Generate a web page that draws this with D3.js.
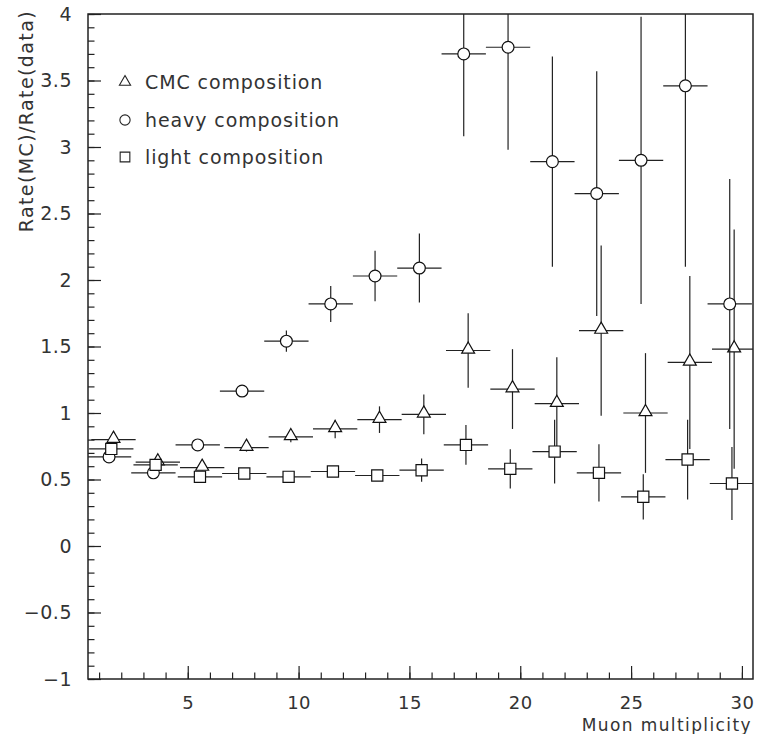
<!DOCTYPE html>
<html lang="en">
<head>
<meta charset="UTF-8">
<title>Rate(MC)/Rate(data)</title>
<script src="https://cdn.jsdelivr.net/npm/d3@7"></script>
<style>
  * { margin: 0; padding: 0; }
  body { background: #fff; }
  text { font-family: "DejaVu Sans", sans-serif; fill: #333; }
</style>
</head>
<body>
<svg></svg>
<script>
  // values
  const cmcX   = [1.65, 3.65, 5.65, 7.65, 9.65, 11.65, 13.65, 15.65, 17.65, 19.65, 21.65, 23.65, 25.65, 27.65, 29.65];
  const cmcY   = [0.80, 0.63, 0.59, 0.74, 0.82, 0.88, 0.95, 0.99, 1.47, 1.18, 1.07, 1.62, 1.00, 1.38, 1.48];
  const cmcErr = [0.02, 0.02, 0.02, 0.03, 0.04, 0.07, 0.10, 0.15, 0.28, 0.30, 0.35, 0.64, 0.45, 0.65, 0.90];

  const heavyX   = [1.45, 3.45, 5.45, 7.45, 9.45, 11.45, 13.45, 15.45, 17.45, 19.45, 21.45, 23.45, 25.45, 27.45, 29.45];
  const heavyY   = [0.67, 0.55, 0.76, 1.165, 1.54, 1.82, 2.03, 2.09, 3.70, 3.75, 2.89, 2.65, 2.90, 3.46, 1.82];
  const heavyErr = [0.02, 0.02, 0.03, 0.03, 0.08, 0.135, 0.19, 0.26, 0.62, 0.77, 0.79, 0.92, 1.08, 1.36, 0.94];

  const lightX   = [1.55, 3.55, 5.55, 7.55, 9.55, 11.55, 13.55, 15.55, 17.55, 19.55, 21.55, 23.55, 25.55, 27.55, 29.55];
  const lightY   = [0.73, 0.61, 0.52, 0.545, 0.52, 0.56, 0.53, 0.57, 0.76, 0.58, 0.71, 0.55, 0.37, 0.65, 0.47];
  const lightErr = [0.02, 0.02, 0.02, 0.02, 0.02, 0.025, 0.03, 0.087, 0.15, 0.147, 0.24, 0.215, 0.17, 0.30, 0.275];

  const xHalfWidth = 1; // bins of width 2
  const xMajorTicks = [5, 10, 15, 20, 25, 30];
  const yMajorTicks = [-1, -0.5, 0, 0.5, 1, 1.5, 2, 2.5, 3, 3.5, 4];
  const legendLabels = ['CMC composition', 'heavy composition', 'light composition'];
  const xTitle = 'Muon multiplicity';
  const yTitle = 'Rate(MC)/Rate(data)';

  const width = 760, height = 734;
  const svg = d3.select('svg').attr('width', width).attr('height', height);

  const x = d3.scaleLinear().domain([0.5, 30.5]).range([88, 753]);
  const y = d3.scaleLinear().domain([-1, 4]).range([679, 14]);

  const series = [
    { name: legendLabels[0], sym: d3.symbolTriangle, size: 72, xs: cmcX, ys: cmcY, es: cmcErr },
    { name: legendLabels[1], sym: d3.symbolCircle, size: 110, xs: heavyX, ys: heavyY, es: heavyErr },
    { name: legendLabels[2], sym: d3.symbolSquare, size: 125, xs: lightX, ys: lightY, es: lightErr }
  ];

  svg.append('clipPath').attr('id', 'plot')
    .append('rect').attr('x', x.range()[0]).attr('y', y.range()[1])
    .attr('width', x.range()[1] - x.range()[0]).attr('height', y.range()[0] - y.range()[1]);

  // minor ticks
  const xMinor = d3.range(1, 31);
  const yMinor = d3.range(-10, 41).map(d => d / 10);

  svg.append('g').attr('transform', `translate(0,${y(-1)})`)
    .call(d3.axisBottom(x).tickValues(xMinor).tickSize(-6.5).tickFormat(''))
    .call(g => g.select('.domain').remove());
  svg.append('g').attr('transform', `translate(${x(0.5)},0)`)
    .call(d3.axisLeft(y).tickValues(yMinor).tickSize(-6.5).tickFormat(''))
    .call(g => g.select('.domain').remove());

  // major ticks + labels
  const xAxis = svg.append('g').attr('transform', `translate(0,${y(-1)})`)
    .call(d3.axisBottom(x).tickValues(xMajorTicks).tickSize(-13).tickPadding(17).tickFormat(d3.format('d')));
  const yAxis = svg.append('g').attr('transform', `translate(${x(0.5)},0)`)
    .call(d3.axisLeft(y).tickValues(yMajorTicks).tickSize(-13).tickPadding(16).tickFormat(d3.format('~g')));
  [xAxis, yAxis].forEach(a => {
    a.select('.domain').remove();
    a.selectAll('text').style('font-size', '19px').style('font-family', '"DejaVu Sans", sans-serif')
      .style('letter-spacing', '0.5px').attr('fill', '#333');
  });
  xAxis.selectAll('text').style('font-size', '18px');
  svg.selectAll('.tick line').attr('stroke', '#222').attr('stroke-width', 1.2);

  // frame
  svg.append('rect')
    .attr('x', x.range()[0]).attr('y', y.range()[1])
    .attr('width', x.range()[1] - x.range()[0]).attr('height', y.range()[0] - y.range()[1])
    .attr('fill', 'none').attr('stroke', '#222').attr('stroke-width', 1.5);

  // data
  const plot = svg.append('g').attr('clip-path', 'url(#plot)');
  series.forEach(s => {
    const pts = s.xs.map((v, i) => ({ x: v, y: s.ys[i], e: s.es[i] }));
    const g = plot.append('g');
    g.selectAll('.h').data(pts).enter().append('line')
      .attr('x1', d => x(d.x - xHalfWidth)).attr('x2', d => x(d.x + xHalfWidth))
      .attr('y1', d => y(d.y)).attr('y2', d => y(d.y))
      .attr('stroke', '#222').attr('stroke-width', 1.2);
    g.selectAll('.v').data(pts).enter().append('line')
      .attr('x1', d => x(d.x)).attr('x2', d => x(d.x))
      .attr('y1', d => y(d.y - d.e)).attr('y2', d => y(d.y + d.e))
      .attr('stroke', '#222').attr('stroke-width', 1.2);
    g.selectAll('path').data(pts).enter().append('path')
      .attr('d', d3.symbol().type(s.sym).size(s.size))
      .attr('transform', d => `translate(${x(d.x)},${y(d.y) + (s.sym === d3.symbolTriangle ? -1 : 0)})`)
      .attr('fill', '#fff').attr('stroke', '#111').attr('stroke-width', 1.2);
  });

  // legend
  const legend = svg.append('g');
  const legendRows = [82, 120, 157];
  series.forEach((s, i) => {
    legend.append('path')
      .attr('d', d3.symbol().type(s.sym).size(s.size * 0.75))
      .attr('transform', `translate(125,${legendRows[i]})`)
      .attr('fill', '#fff').attr('stroke', '#222').attr('stroke-width', 1.1);
    legend.append('text').attr('x', 145).attr('y', legendRows[i] + 7)
      .style('font-size', '19px').style('letter-spacing', '0.9px').text(s.name);
  });

  // axis titles
  svg.append('text').attr('x', 752).attr('y', 731).attr('text-anchor', 'end')
    .style('font-size', '17px').style('letter-spacing', '1.4px').text(xTitle);
  svg.append('text').attr('transform', 'translate(33,10) rotate(-90)').attr('text-anchor', 'end')
    .style('font-size', '19px').style('letter-spacing', '1.4px').text(yTitle);
</script>
</body>
</html>
